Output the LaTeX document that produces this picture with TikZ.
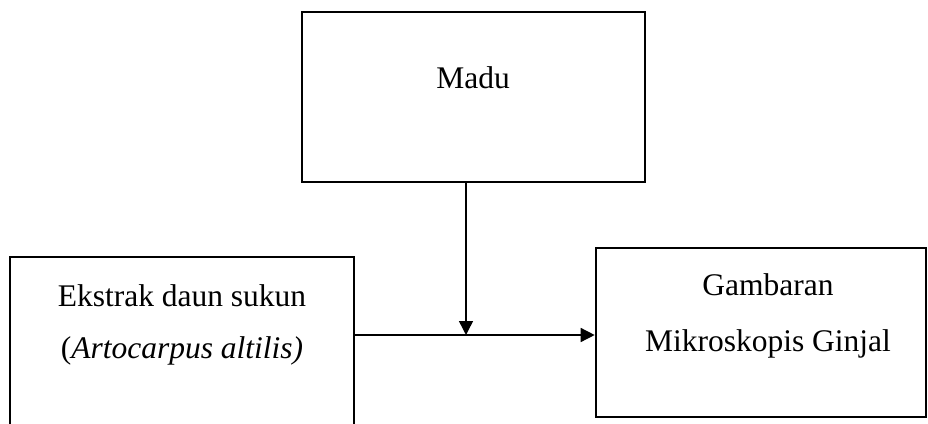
\documentclass[tikz,border=0pt]{standalone}
\usepackage{fontspec}
\setmainfont{Liberation Serif}
\usetikzlibrary{arrows.meta}
\begin{document}
\begin{tikzpicture}[x=1pt,y=-1pt,
  box/.style={draw=black, line width=2.6pt, inner sep=0pt},
  lbl/.style={anchor=base, inner sep=0pt, font=\fontsize{31.5}{38}\selectfont},
  conn/.style={draw=black, line width=1.4pt, -{Triangle[length=14pt,width=14pt]}}]
\useasboundingbox (0,0) rectangle (928,423);
\node[box, minimum width=343pt, minimum height=170pt] (madu) at (473.5,97) {};
\node[box, minimum width=344pt, minimum height=183pt] (ekstrak) at (182,348.5) {};
\node[box, minimum width=330pt, minimum height=169pt] (gambar) at (761,332.5) {};
\node[lbl] (tmadu) at (473,88) {Madu};
\node[lbl] (te1) at (182,306) {Ekstrak daun sukun};
\node[lbl] (te2) at (182,358) {(\textit{Artocarpus altilis)}};
\node[lbl] (tg1) at (768,295) {Gambaran};
\node[lbl] (tg2) at (768,351) {Mikroskopis Ginjal};
\coordinate (j) at (466,335);
\draw[conn] (madu.south -| j) -- (j);
\draw[conn] (ekstrak.east |- j) -- (gambar.west |- j);
\end{tikzpicture}
\end{document}
